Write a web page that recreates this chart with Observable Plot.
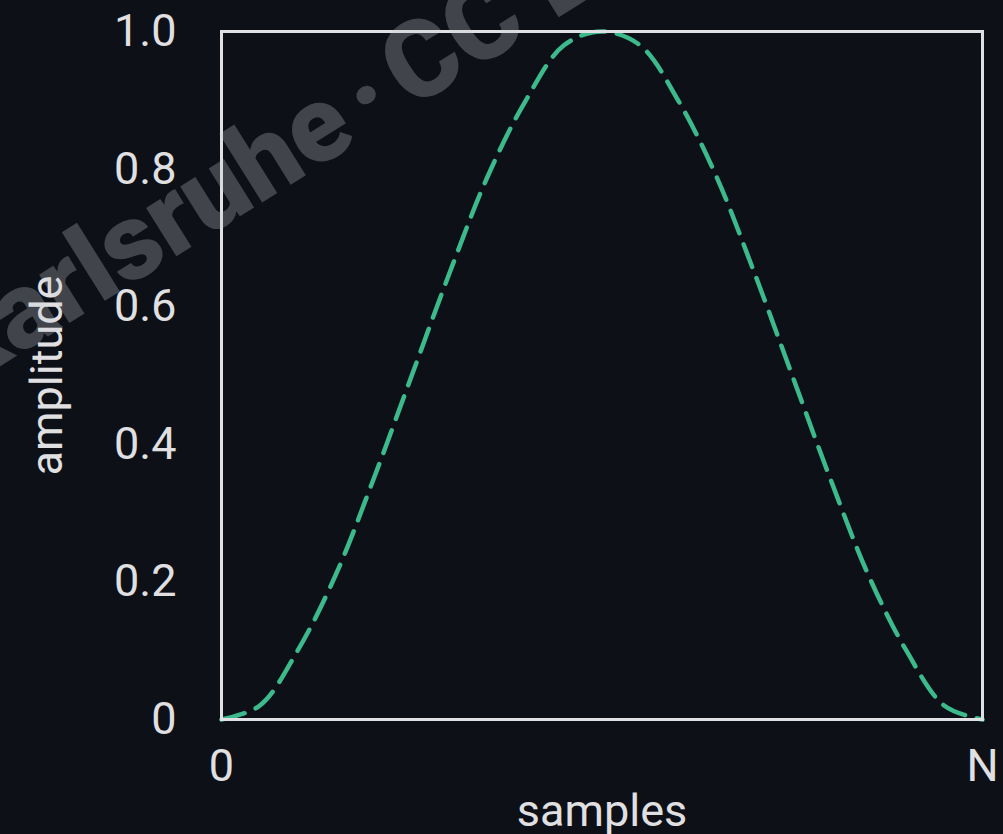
<!DOCTYPE html>
<html>
<head>
<meta charset="utf-8">
<script src="https://cdn.jsdelivr.net/npm/d3@7"></script>
<script src="https://cdn.jsdelivr.net/npm/@observablehq/plot@0.6"></script>
<style>
  html, body { margin: 0; padding: 0; background: #0d1017; }
  #chart { position: relative; width: 1003px; height: 834px; overflow: hidden; }
  #wm { position: absolute; left: 0; top: 0; pointer-events: none; }
</style>
</head>
<body>
<div id="chart"></div>
<script>
// sample positions (0 .. N, with N = 20) and window amplitude
const samples   = [0, 1, 2, 3, 4, 5, 6, 7, 8, 9, 10, 11, 12, 13, 14, 15, 16, 17, 18, 19, 20];
const amplitude = [0, 0.02, 0.10, 0.21, 0.35, 0.50, 0.65, 0.79, 0.90, 0.98, 1.00,
                   0.98, 0.90, 0.79, 0.65, 0.50, 0.35, 0.21, 0.10, 0.02, 0];
const xTicks = [0, 20];
const xTickLabels = ["0", "N"];
const yTicks = [0, 0.2, 0.4, 0.6, 0.8, 1.0];
const yTickLabels = ["0", "0.2", "0.4", "0.6", "0.8", "1.0"];

const data = samples.map((s, i) => ({s, a: amplitude[i]}));

const plot = Plot.plot({
  width: 1003,
  height: 834,
  marginLeft: 221,
  marginRight: 21,
  marginTop: 31,
  marginBottom: 115,
  style: {background: "#0d1017", color: "#e0e0e2", fontFamily: "Roboto, sans-serif", fontSize: "45px"},
  x: {domain: [0, 20]},
  y: {domain: [0, 1]},
  marks: [
    Plot.line(data, {x: "s", y: "a", curve: "catmull-rom", stroke: "#3dba8c", strokeWidth: 4.5, strokeDasharray: "24 12"}),
    Plot.frame({stroke: "#e0e0e4", strokeWidth: 3}),
    Plot.axisX({ticks: xTicks, tickFormat: (d) => xTickLabels[xTicks.indexOf(d)], tickSize: 0, tickPadding: 30,
      label: "samples", labelAnchor: "center", labelArrow: "none", labelOffset: 106}),
    Plot.axisY({ticks: yTicks, tickFormat: (d) => yTickLabels[yTicks.indexOf(d)], tickSize: 0, tickPadding: 45,
      label: "amplitude", labelAnchor: "center", labelArrow: "none", labelOffset: 191})
  ]
});
document.getElementById("chart").appendChild(plot);

// watermark
const svgNS = "http://www.w3.org/2000/svg";
const wm = document.createElementNS(svgNS, "svg");
wm.setAttribute("id", "wm");
wm.setAttribute("width", 1003);
wm.setAttribute("height", 834);
const g = document.createElementNS(svgNS, "g");
g.setAttribute("transform", "translate(370,101) rotate(-32)");
g.setAttribute("font-family", "Roboto, sans-serif");
g.setAttribute("font-weight", "900");
g.setAttribute("font-size", "108");
g.setAttribute("fill", "rgba(200,205,210,0.28)");
[["Karlsruhe", "end", -30], ["\u00b7", "middle", 0], ["CC BY", "start", 30]].forEach(([txt, anchor, x]) => {
  const t = document.createElementNS(svgNS, "text");
  t.setAttribute("x", x);
  t.setAttribute("y", 29);
  t.setAttribute("text-anchor", anchor);
  t.textContent = txt;
  g.appendChild(t);
});
wm.appendChild(g);
document.getElementById("chart").appendChild(wm);
</script>
</body>
</html>
